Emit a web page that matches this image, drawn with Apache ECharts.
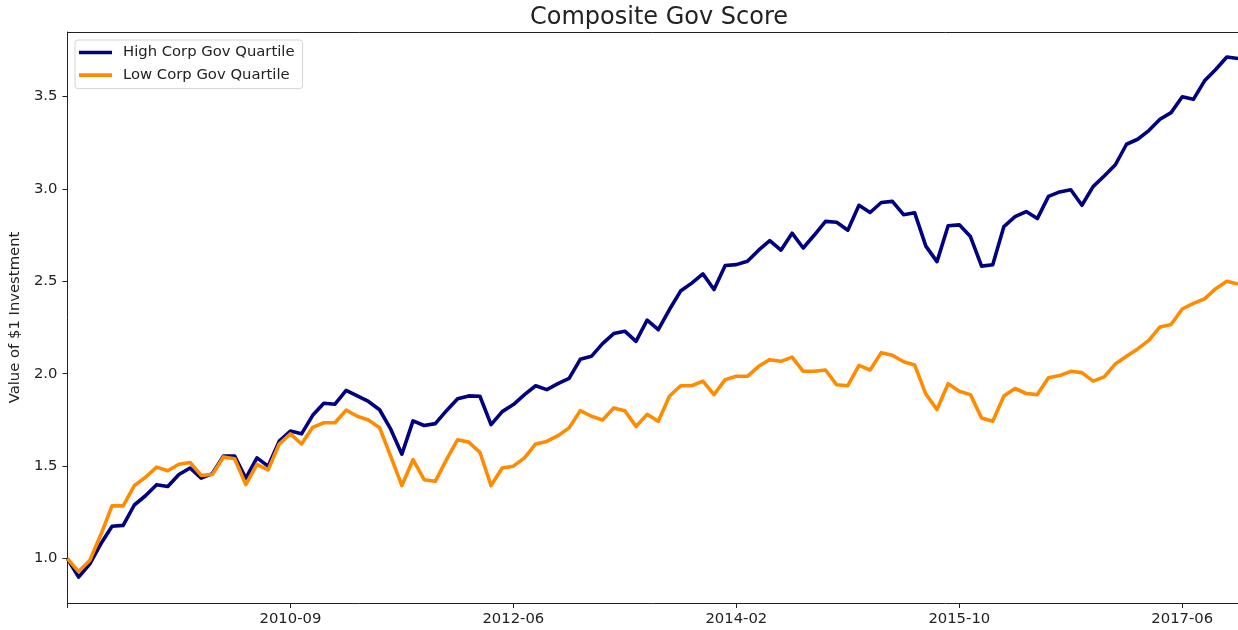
<!DOCTYPE html>
<html>
<head>
<meta charset="utf-8">
<title>Composite Gov Score</title>
<script src="https://cdn.jsdelivr.net/npm/echarts@6.0.0/dist/echarts.min.js"></script>
<style>
    html, body { margin: 0; padding: 0; background: #fff; }
    #chart { width: 1238px; height: 630px; }
</style>
</head>
<body>
<div id="chart"></div>
<script>
// month index of the series (one month missing in 2011, as in the source data)
var months = [
    '2009-01', '2009-02', '2009-03', '2009-04', '2009-05', '2009-06', '2009-07', '2009-08', '2009-09', '2009-10', '2009-11', '2009-12',
    '2010-01', '2010-02', '2010-03', '2010-04', '2010-05', '2010-06', '2010-07', '2010-08', '2010-09', '2010-10', '2010-11', '2010-12',
    '2011-01', '2011-02', '2011-03', '2011-04', '2011-05', '2011-06', '2011-07', '2011-08', '2011-09', '2011-10', '2011-11',
    '2012-01', '2012-02', '2012-03', '2012-04', '2012-05', '2012-06', '2012-07', '2012-08', '2012-09', '2012-10', '2012-11', '2012-12',
    '2013-01', '2013-02', '2013-03', '2013-04', '2013-05', '2013-06', '2013-07', '2013-08', '2013-09', '2013-10', '2013-11', '2013-12',
    '2014-01', '2014-02', '2014-03', '2014-04', '2014-05', '2014-06', '2014-07', '2014-08', '2014-09', '2014-10', '2014-11', '2014-12',
    '2015-01', '2015-02', '2015-03', '2015-04', '2015-05', '2015-06', '2015-07', '2015-08', '2015-09', '2015-10', '2015-11', '2015-12',
    '2016-01', '2016-02', '2016-03', '2016-04', '2016-05', '2016-06', '2016-07', '2016-08', '2016-09', '2016-10', '2016-11', '2016-12',
    '2017-01', '2017-02', '2017-03', '2017-04', '2017-05', '2017-06', '2017-07', '2017-08', '2017-09', '2017-10', '2017-11'
];

var highGov = [
    1.00, 0.90, 0.97, 1.08, 1.175, 1.18, 1.29, 1.34, 1.40, 1.39,
    1.455, 1.49, 1.435, 1.46, 1.555, 1.555, 1.435, 1.545, 1.50, 1.635,
    1.69, 1.675, 1.775, 1.84, 1.835, 1.91, 1.88, 1.85, 1.805, 1.70,
    1.565, 1.745, 1.72, 1.73, 1.80, 1.865, 1.88, 1.878, 1.725, 1.795,
    1.833, 1.887, 1.935, 1.914, 1.946, 1.975, 2.078, 2.094, 2.163, 2.217,
    2.23, 2.175, 2.29, 2.238, 2.347, 2.447, 2.49, 2.54, 2.455, 2.585,
    2.59, 2.608, 2.668, 2.72, 2.668, 2.76, 2.68, 2.75, 2.824, 2.819,
    2.776, 2.911, 2.872, 2.926, 2.932, 2.86, 2.87, 2.69, 2.606, 2.80,
    2.805, 2.742, 2.582, 2.589, 2.796, 2.849, 2.877, 2.839, 2.959, 2.983,
    2.995, 2.911, 3.012, 3.069, 3.13, 3.241, 3.268, 3.315, 3.376, 3.412,
    3.498, 3.484, 3.584, 3.645, 3.713, 3.705
];

var lowGov = [
    1.00, 0.93, 0.99, 1.13, 1.285, 1.285, 1.395, 1.44, 1.495, 1.475,
    1.51, 1.52, 1.45, 1.455, 1.55, 1.54, 1.40, 1.51, 1.48, 1.62,
    1.675, 1.62, 1.71, 1.735, 1.735, 1.803, 1.77, 1.75, 1.708, 1.553,
    1.395, 1.535, 1.427, 1.418, 1.535, 1.643, 1.63, 1.575, 1.395, 1.49,
    1.50, 1.545, 1.62, 1.634, 1.665, 1.707, 1.80, 1.77, 1.75, 1.815,
    1.80, 1.715, 1.78, 1.743, 1.878, 1.935, 1.935, 1.96, 1.887, 1.968,
    1.986, 1.986, 2.04, 2.076, 2.067, 2.09, 2.013, 2.013, 2.02, 1.94,
    1.935, 2.045, 2.02, 2.114, 2.10, 2.065, 2.047, 1.89, 1.806, 1.946,
    1.905, 1.887, 1.76, 1.743, 1.88, 1.92, 1.893, 1.887, 1.978, 1.99,
    2.013, 2.006, 1.96, 1.983, 2.053, 2.094, 2.134, 2.18, 2.253, 2.266,
    2.35, 2.38, 2.405, 2.46, 2.50, 2.485
];

var yTicks = [1.0, 1.5, 2.0, 2.5, 3.0, 3.5];

var textColor = '#222';
var font = 'DejaVu Sans';
var spine = { show: true, lineStyle: { color: '#222', width: 1 } };

var myChart = echarts.init(document.getElementById('chart'));

var option = {
    backgroundColor: '#fff',
    animation: false,
    title: {
        text: 'Composite Gov Score',
        left: 654,
        top: 1,
        textAlign: 'center',
        textStyle: { fontFamily: font, fontSize: 24, fontWeight: 'normal', color: textColor }
    },
    legend: {
        orient: 'vertical',
        left: 75,
        top: 40,
        padding: [4, 8, 5, 4],
        itemGap: 5.6,
        itemWidth: 33,
        itemHeight: 3.6,
        icon: 'rect',
        backgroundColor: '#fff',
        borderColor: '#d4d4d4',
        borderWidth: 1,
        borderRadius: 3,
        textStyle: { fontFamily: font, fontSize: 14.8, lineHeight: 17, color: textColor, padding: [0, 0, 0, 6] }
    },
    grid: {
        left: 67,
        top: 32,
        right: -2,
        bottom: 27,
        containLabel: false
    },
    xAxis: [
        {
            type: 'category',
            data: months,
            boundaryGap: false,
            position: 'bottom',
            axisLine: spine,
            axisTick: {
                show: true,
                length: 5,
                lineStyle: { color: '#222' },
                interval: function (i) { return i % 20 === 0; }
            },
            axisLabel: {
                fontFamily: font,
                fontSize: 14.8,
                color: textColor,
                margin: 9,
                interval: function (i) { return i % 20 === 0 && i > 0; }
            },
            splitLine: { show: false }
        },
        {
            // top spine only
            type: 'category',
            data: months,
            boundaryGap: false,
            position: 'top',
            axisLine: spine,
            axisTick: { show: false },
            axisLabel: { show: false },
            splitLine: { show: false }
        }
    ],
    yAxis: {
        type: 'value',
        min: 0.760,
        max: 3.848,
        name: 'Value of $1 Investment',
        nameLocation: 'middle',
        nameRotate: 90,
        nameGap: 41,
        nameTextStyle: { fontFamily: font, fontSize: 14.8, color: textColor },
        axisLine: spine,
        axisTick: {
            show: true,
            length: 5,
            lineStyle: { color: '#222' },
            customValues: yTicks
        },
        axisLabel: {
            fontFamily: font,
            fontSize: 14.8,
            color: textColor,
            margin: 10,
            customValues: yTicks,
            formatter: function (v) { return v.toFixed(1); }
        },
        splitLine: { show: false }
    },
    series: [
        {
            name: 'High Corp Gov Quartile',
            type: 'line',
            data: highGov,
            showSymbol: false,
            symbol: 'none',
            color: '#000080',
            lineStyle: { width: 3.6, color: '#000080', join: 'round' }
        },
        {
            name: 'Low Corp Gov Quartile',
            type: 'line',
            data: lowGov,
            showSymbol: false,
            symbol: 'none',
            color: '#ff8c00',
            lineStyle: { width: 3.6, color: '#ff8c00', join: 'round' }
        }
    ]
};

myChart.setOption(option);
</script>
</body>
</html>
